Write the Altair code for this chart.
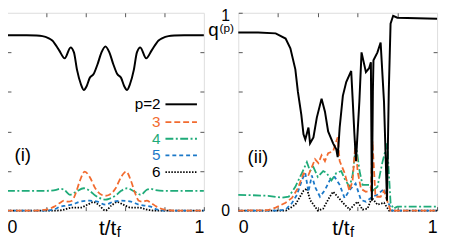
import altair as alt
import pandas as pd

# ---------------- data ----------------
# panel (i)
L_T2 = [0, 0.10, 0.15, 0.18, 0.21, 0.23, 0.265, 0.293, 0.323, 0.34, 0.356, 0.375, 0.39, 0.405, 0.42, 0.44, 0.46, 0.48, 0.50,
        0.52, 0.54, 0.56, 0.58, 0.595, 0.61, 0.625, 0.644, 0.66, 0.677, 0.707, 0.735, 0.77, 0.79, 0.82, 0.85, 0.90, 1.0]
L_Q2 = [0.886, 0.886, 0.885, 0.882, 0.872, 0.86, 0.81, 0.77, 0.825, 0.80, 0.71, 0.64, 0.61, 0.63, 0.67, 0.69, 0.74, 0.80, 0.83,
        0.80, 0.74, 0.69, 0.67, 0.63, 0.61, 0.64, 0.71, 0.80, 0.825, 0.77, 0.81, 0.86, 0.872, 0.882, 0.885, 0.886, 0.886]
L_T3 = [0, 0.15, 0.20, 0.24, 0.27, 0.29, 0.31, 0.33, 0.35, 0.37, 0.395, 0.42, 0.45, 0.48, 0.50,
        0.52, 0.55, 0.58, 0.605, 0.63, 0.65, 0.67, 0.69, 0.71, 0.73, 0.76, 0.80, 0.85, 1.0]
L_Q3 = [0, 0, 0.005, 0.02, 0.04, 0.05, 0.045, 0.05, 0.09, 0.15, 0.197, 0.17, 0.11, 0.08, 0.075,
        0.08, 0.11, 0.17, 0.197, 0.15, 0.09, 0.05, 0.045, 0.05, 0.04, 0.02, 0.005, 0, 0]
L_T4 = [0, 0.20, 0.25, 0.27, 0.29, 0.32, 0.35, 0.39, 0.42, 0.45, 0.48, 0.50,
        0.52, 0.55, 0.58, 0.61, 0.65, 0.68, 0.71, 0.73, 0.75, 0.80, 1.0]
L_Q4 = [0.10, 0.10, 0.105, 0.11, 0.105, 0.08, 0.095, 0.113, 0.10, 0.075, 0.06, 0.055,
        0.06, 0.075, 0.10, 0.113, 0.095, 0.08, 0.105, 0.11, 0.105, 0.10, 0.10]
L_T5 = [0, 0.20, 0.24, 0.27, 0.30, 0.33, 0.37, 0.42, 0.46, 0.50, 0.54, 0.58, 0.63, 0.67, 0.70, 0.73, 0.76, 0.80, 1.0]
L_Q5 = [0, 0, 0.006, 0.02, 0.025, 0.03, 0.045, 0.05, 0.045, 0.03, 0.045, 0.05, 0.045, 0.03, 0.025, 0.02, 0.006, 0, 0]
L_T6 = [0, 0.25, 0.29, 0.33, 0.37, 0.41, 0.44, 0.47, 0.50, 0.53, 0.56, 0.59, 0.63, 0.67, 0.71, 0.75, 1.0]
L_Q6 = [0, 0, 0.005, 0.015, 0.015, 0.03, 0.043, 0.025, 0, 0.025, 0.043, 0.03, 0.015, 0.015, 0.005, 0, 0]

# panel (ii)
R_T2 = [0, 0.10, 0.188, 0.238, 0.262, 0.287, 0.30, 0.317, 0.328, 0.337, 0.345, 0.353, 0.361, 0.378, 0.395, 0.419, 0.436,
        0.452, 0.477, 0.493, 0.50, 0.51, 0.526, 0.543, 0.568, 0.576, 0.584, 0.592, 0.609, 0.62, 0.642, 0.658, 0.667,
        0.672, 0.677, 0.68, 0.70, 0.716, 0.733, 0.748, 0.757, 0.766, 0.779, 0.80, 1.0]
R_Q2 = [0.90, 0.90, 0.896, 0.87, 0.82, 0.714, 0.60, 0.485, 0.386, 0.36, 0.39, 0.42, 0.34, 0.37, 0.47, 0.566, 0.50,
        0.40, 0.34, 0.31, 0.27, 0.42, 0.58, 0.65, 0.706, 0.55, 0.39, 0.25, 0.55, 0.80, 0.70, 0.72, 0.75,
        0.05, 0.60, 0.76, 0.80, 0.85, 0.55, 0.05, 0.60, 0.945, 0.985, 0.975, 0.97]
R_T3 = [0, 0.15, 0.188, 0.238, 0.27, 0.30, 0.328, 0.353, 0.37, 0.386, 0.403, 0.419, 0.436, 0.452, 0.477, 0.493, 0.50,
        0.51, 0.535, 0.559, 0.575, 0.59, 0.60, 0.617, 0.642, 0.667, 0.675, 0.69, 0.716, 0.733, 0.749, 0.766, 0.80, 1.0]
R_Q3 = [0, 0.002, 0.015, 0.04, 0.064, 0.113, 0.188, 0.18, 0.22, 0.26, 0.24, 0.28, 0.25, 0.29, 0.30, 0.35, 0.37,
        0.25, 0.19, 0.10, 0.15, 0.35, 0.20, 0.11, 0.095, 0.10, 0.35, 0.07, 0.07, 0.10, 0.05, 0.0, 0, 0]
R_T4 = [0, 0.15, 0.22, 0.254, 0.287, 0.32, 0.345, 0.361, 0.378, 0.40, 0.427, 0.444, 0.469, 0.493, 0.518, 0.535, 0.56,
        0.575, 0.592, 0.61, 0.625, 0.658, 0.675, 0.70, 0.724, 0.749, 0.766, 0.78, 0.80, 1.0]
R_Q4 = [0.08, 0.075, 0.065, 0.07, 0.12, 0.19, 0.245, 0.20, 0.22, 0.17, 0.20, 0.19, 0.153, 0.19, 0.20, 0.16, 0.12,
        0.18, 0.335, 0.20, 0.13, 0.13, 0.10, 0.12, 0.24, 0.34, 0.04, 0.01, 0.02, 0.02]
R_T5 = [0, 0.20, 0.238, 0.27, 0.295, 0.32, 0.337, 0.353, 0.37, 0.386, 0.411, 0.436, 0.46, 0.485, 0.51, 0.535, 0.56,
        0.59, 0.617, 0.642, 0.675, 0.70, 0.733, 0.749, 0.774, 1.0]
R_Q5 = [0, 0, 0.005, 0.038, 0.08, 0.153, 0.19, 0.095, 0.178, 0.12, 0.07, 0.104, 0.153, 0.17, 0.13, 0.063, 0.104,
        0.137, 0.054, 0.045, 0.07, 0.08, 0.11, 0.05, 0, 0]
R_T6 = [0, 0.24, 0.287, 0.328, 0.345, 0.361, 0.40, 0.427, 0.46, 0.477, 0.50, 0.535, 0.56, 0.584, 0.60, 0.625, 0.65,
        0.672, 0.70, 0.733, 0.758, 1.0]
R_Q6 = [0, 0, 0.03, 0.10, 0.112, 0.054, 0.0, 0.01, 0.07, 0.095, 0.07, 0.03, 0.005, 0.03, 0.045, 0.005, 0.01,
        0.065, 0.03, 0.04, 0, 0]

SERIES = ["2", "3", "4", "5", "6"]
LEGEND_LABELS = ["p=2", "3", "4", "5", "6"]
PANEL_LABELS = ["(i)", "(ii)"]
AXIS_TICKS = [0.2, 0.4, 0.6, 0.8]
LABELLED_TICKS = [0, 0.2, 0.4, 0.6, 0.8, 1]

# ---------------- styling ----------------
FONT = "Liberation Sans"
FRAME = "#555555"
STYLE = {
    "2": dict(color="#000000", strokeWidth=2.0),
    "3": dict(color="#f26b2f", strokeWidth=1.8, strokeDash=[6, 3]),
    "4": dict(color="#1fab79", strokeWidth=1.8, strokeDash=[8, 2.5, 2, 2.5]),
    "5": dict(color="#1b78c8", strokeWidth=1.8, strokeDash=[4, 3]),
    "6": dict(color="#000000", strokeWidth=1.8, strokeDash=[1.5, 1.5]),
}
H = 201
LABEL_EXPR = "datum.value == 0 ? '0' : (datum.value == 1 ? '1' : '')"


def make_axis(orient, labels=False):
    opts = dict(orient=orient, domain=False, grid=False, ticks=True, tickSize=4, offset=-4,
                tickColor=FRAME, tickWidth=1, title=None)
    if labels:
        opts.update(values=LABELLED_TICKS, labelExpr=LABEL_EXPR, labelFont=FONT, labelColor="black")
        if orient == "bottom":
            opts.update(labelFontSize=18, labelPadding=8)
        else:
            opts.update(labelFontSize=16, labelPadding=9,
                        labelOffset={"condition": {"test": "datum.value == 1", "value": 3}, "value": 0})
    else:
        opts.update(values=AXIS_TICKS, labels=False)
    return alt.Axis(**opts)


def line_layer(t, q, key, interp, xaxis=None, yaxis=None):
    df = pd.DataFrame({"t": t, "q": q})
    return alt.Chart(df).mark_line(interpolate=interp, **STYLE[key]).encode(
        x=alt.X("t:Q", scale=alt.Scale(domain=[0, 1], nice=False, zero=False), axis=xaxis),
        y=alt.Y("q:Q", scale=alt.Scale(domain=[0, 1], nice=False, zero=False), axis=yaxis),
    )


def text_layer(text, x, y, size, align="center", baseline="middle", color="black"):
    return alt.Chart(pd.DataFrame({"label": [text]})).mark_text(
        font=FONT, fontSize=size, align=align, baseline=baseline, color=color
    ).encode(text="label:N", x=alt.value(x), y=alt.value(y))


def xlabel(x_right):
    return [text_layer("t/t", x_right, H + 25, 21, align="right", baseline="alphabetic"),
            text_layer("f", x_right + 0.5, H + 27, 15, align="left", baseline="alphabetic")]


def panel(data, interp, width, ylabels, panel_label, label_pos, xlab_right, extra):
    (t2, q2), (t3, q3), (t4, q4), (t5, q5), (t6, q6) = data
    layers = [
        line_layer(t6, q6, "6", interp, make_axis("top"), make_axis("right")),
        line_layer(t5, q5, "5", interp),
        line_layer(t4, q4, "4", interp),
        line_layer(t3, q3, "3", interp),
        line_layer(t2, q2, "2", interp, make_axis("bottom", True), make_axis("left", ylabels)),
        text_layer(panel_label, label_pos[0], label_pos[1], 19),
    ] + xlabel(xlab_right) + extra
    return alt.layer(*layers).resolve_axis(x="independent", y="independent").properties(width=width, height=H)


# legend inside panel (i)
legend_layers = []
legend_y = [93, 111, 128, 145, 162]
for key, lab, ly in zip(SERIES, LEGEND_LABELS, legend_y):
    st = STYLE[key]
    legend_layers.append(text_layer(lab, 156, ly, 15.5, align="right",
                                    color="black" if key in ("2", "6") else st["color"]))
    legend_layers.append(
        alt.Chart(pd.DataFrame({"label": [lab]})).mark_rule(**st).encode(
            x=alt.value(161), x2=alt.value(193), y=alt.value(ly)
        )
    )

qp_layers = [
    text_layer("q", -20, 24, 19, align="right", baseline="alphabetic"),
    text_layer("(p)", -19, 20, 12, align="left", baseline="alphabetic"),
]

left = panel([(L_T2, L_Q2), (L_T3, L_Q3), (L_T4, L_Q4), (L_T5, L_Q5), (L_T6, L_Q6)],
             "monotone", 200, False, PANEL_LABELS[0], (16, 145), 111, legend_layers)
right = panel([(R_T2, R_Q2), (R_T3, R_Q3), (R_T4, R_Q4), (R_T5, R_Q5), (R_T6, R_Q6)],
              "linear", 202, True, PANEL_LABELS[1], (20, 147), 113, qp_layers)

chart = alt.hconcat(left, right, spacing=35, bounds="flush").properties(
    padding={"left": -6, "top": -3, "right": 0, "bottom": -4}
).configure_view(stroke=FRAME, strokeWidth=1).configure(background="white")

chart.save("out.html", embed_options={"renderer": "svg", "actions": False})
